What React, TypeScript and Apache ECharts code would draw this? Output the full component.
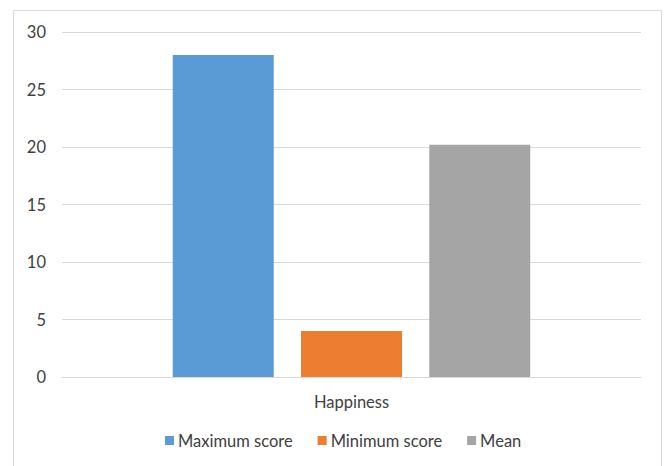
import React, { useEffect, useRef } from "react";
import * as echarts from "echarts";

const categories = ["Happiness"];
const seriesNames = ["Maximum score", "Minimum score", "Mean"];
const maxScore = [28];
const minScore = [4];
const meanScore = [20.2];
const colors = ["#5B9BD5", "#ED7D31", "#A5A5A5"];

export default function App() {
  const ref = useRef<HTMLDivElement>(null);
  useEffect(() => {
    if (!ref.current) return;
    const chart = echarts.init(ref.current, undefined, { renderer: "svg" });
    const font = "Lato, 'Open Sans', sans-serif";
    const values = [maxScore, minScore, meanScore];
    chart.setOption({
      animation: false,
      backgroundColor: "#ffffff",
      textStyle: { fontFamily: font },
      graphic: [
        {
          type: "rect",
          shape: { x: 13.5, y: 10.5, width: 648, height: 480 },
          style: { fill: "none", stroke: "#d9d9d9", lineWidth: 1 },
          silent: true,
        },
      ],
      grid: { left: 62, right: 26, top: 32, bottom: 89, containLabel: false },
      legend: {
        bottom: 12,
        left: 160,
        itemWidth: 9,
        itemHeight: 9,
        itemGap: 25,
        icon: "rect",
        textStyle: { fontSize: 16.5, color: "#404040", fontFamily: font, padding: [0, 0, 0, -1] },
        data: seriesNames,
      },
      xAxis: {
        type: "category",
        data: categories,
        axisLine: { lineStyle: { color: "#d9d9d9" } },
        axisTick: { show: false },
        axisLabel: { fontSize: 16.5, color: "#404040", margin: 16, fontFamily: font },
      },
      yAxis: {
        type: "value",
        min: 0,
        max: 30,
        interval: 5,
        axisLine: { show: false },
        axisTick: { show: false },
        splitLine: { lineStyle: { color: "#d9d9d9" } },
        axisLabel: { fontSize: 16.5, color: "#404040", margin: 16, fontFamily: font },
      },
      series: seriesNames.map((name, i) => ({
        name,
        type: "bar",
        data: values[i],
        barWidth: 101,
        barGap: "27%",
        itemStyle: { color: colors[i] },
      })),
    });
    return () => chart.dispose();
  }, []);
  return (
    <div
      ref={ref}
      style={{ position: "fixed", left: 0, top: 0, width: 667, height: 466 }}
    />
  );
}
